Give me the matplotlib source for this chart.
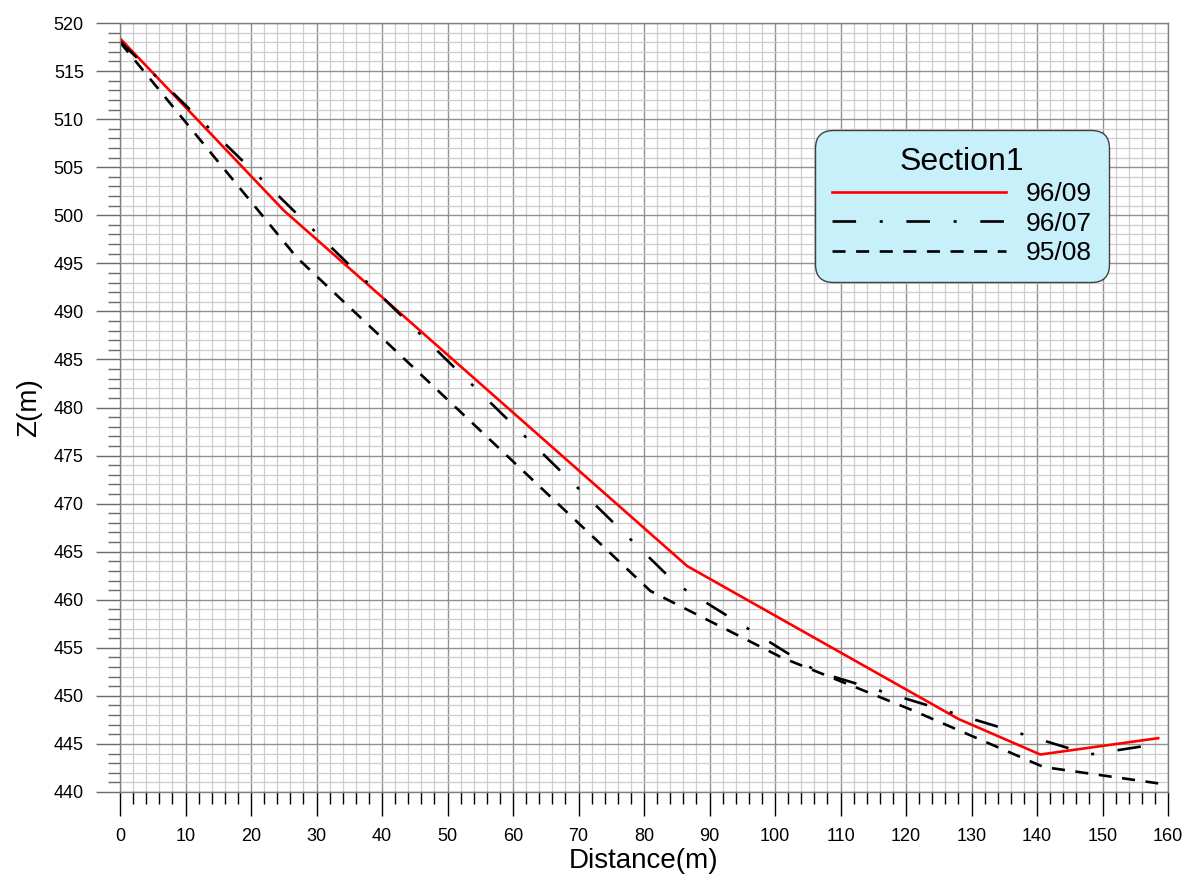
import matplotlib
matplotlib.use('Agg')
import matplotlib.pyplot as plt
from matplotlib.ticker import MultipleLocator

plt.rcParams['font.family'] = ['Liberation Sans', 'DejaVu Sans']
plt.rcParams['lines.scale_dashes'] = False

# section 1 bed profiles
dist_9609 = [0, 25, 86.6, 128, 140.5, 158.5]
z_9609 = [518.4, 500.5, 463.5, 447.6, 443.9, 445.6]

dist_9607 = [0, 85, 106.5, 148, 158.5]
z_9607 = [518.1, 461.6, 452.5, 443.9, 445.0]

dist_9508 = [0, 27, 81, 101, 121, 141, 158.5]
z_9508 = [518.0, 495.6, 460.9, 454.0, 448.5, 442.6, 440.9]

fig = plt.figure(figsize=(11.86, 8.82), dpi=100)
ax = fig.add_axes([120 / 1186, 1 - 792 / 882, 1048 / 1186, 769 / 882])

ax.plot(dist_9609, z_9609, color='#ff0000', lw=1.9, label='96/09')
ax.plot(dist_9607, z_9607, color='black', lw=1.9,
        linestyle=(0, (17, 17, 2.2, 17)), label='96/07')
ax.plot(dist_9508, z_9508, color='black', lw=1.9,
        linestyle=(0, (9.4, 7.6)), label='95/08')

ax.set_xlim(0, 160)
ax.set_ylim(440, 520)
ax.xaxis.set_major_locator(MultipleLocator(10))
ax.xaxis.set_minor_locator(MultipleLocator(2))
ax.yaxis.set_major_locator(MultipleLocator(5))
ax.yaxis.set_minor_locator(MultipleLocator(1))

ax.set_axisbelow(True)
ax.grid(which='minor', color='#cdcdcd', lw=0.9)
ax.grid(which='major', color='#919191', lw=1.0)

ax.tick_params(axis='both', which='major', direction='out', length=17,
               width=1, labelsize=13, pad=9)
ax.tick_params(axis='both', which='minor', direction='out', length=8.6, width=1)
ax.tick_params(axis='y', which='both', color='#6a6a6a')
ax.tick_params(axis='x', which='both', color='black')

for sp in ax.spines.values():
    sp.set_color('#808080')
    sp.set_linewidth(1)

ax.set_xlabel('Distance(m)', fontsize=20, labelpad=2)
ax.set_ylabel('Z(m)', fontsize=20, labelpad=8)

leg = ax.legend(loc='upper left', bbox_to_anchor=(0.663, 0.861),
                borderaxespad=0, title='Section1', title_fontsize=23,
                fontsize=19, handlelength=6.6, handletextpad=0.75,
                labelspacing=0.2, borderpad=0.65, fancybox=True,
                framealpha=1)
frame = leg.get_frame()
frame.set_facecolor('#c8f0fa')
frame.set_edgecolor('#404040')
frame.set_linewidth(1)
frame.set_boxstyle('round,pad=0,rounding_size=0.7')

fig.savefig('out.png', dpi=100)
